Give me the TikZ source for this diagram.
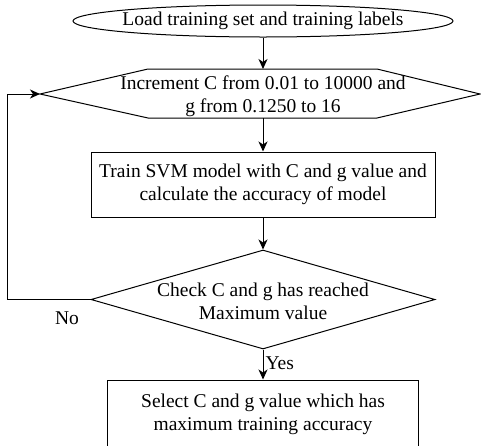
\documentclass[tikz,border=0pt]{standalone}
\usepackage{fontspec}
\setmainfont{Liberation Serif}
\usetikzlibrary{shapes.geometric,arrows.meta}
\begin{document}
\begin{tikzpicture}[x=1pt,y=-1pt,
  every node/.style={font=\fontsize{19.5}{23}\selectfont},
  txt/.style={align=center, inner sep=0pt},
  outline/.style={draw, line width=1pt},
  box/.style={outline, rectangle, inner sep=0pt, align=center},
  link/.style={line width=1pt, -{Stealth[length=10pt,width=9pt,inset=3pt]}}]
\clip (0,0) rectangle (481,445);

% start: load the data
\node[outline, ellipse, minimum width=380pt, minimum height=32pt, inner sep=0pt] (load) at (263,21) {};
\node[txt] (loadtxt) at (263,21) {Load training set and training labels};

% parameter sweep (hexagon)
\coordinate (incN) at (263,69);
\coordinate (incS) at (263,118);
\coordinate (incW) at (40,94);
\draw[outline] (incW) -- (148,69) -- (377,69) -- (480,94) -- (377,118) -- (148,118) -- cycle;
\node[txt] (inc) at (263,96) {Increment C from 0.01 to 10000 and\\g from 0.1250 to 16};

% training step
\node[box, minimum width=344pt, minimum height=65pt] (train) at (263,184.5)
  {Train SVM model with C and g value and\\calculate the accuracy of model};

% decision
\node[outline, diamond, minimum width=344pt, minimum height=99pt, inner sep=0pt] (chk) at (263,299.5) {};
\node[txt] (chktxt) at (263,301) {Check C and g has reached\\Maximum value};

% result
\node[box, minimum width=311pt, minimum height=69pt] (sel) at (263,414.5)
  {Select C and g value which has\\maximum training accuracy};

% connectors
\draw[link] (load.south) -- (incN);
\draw[link] (incS) -- (train.north);
\draw[link] (train.south) -- (chk.north);
\draw[link] (chk.south) -- node[right, inner sep=2pt, pos=0.45] (yes) {Yes} (sel.north);
\draw[link] (chk.west) -- ++(-83,0) |- (incW);
\node (no) at (67,318) {No};
\end{tikzpicture}
\end{document}
